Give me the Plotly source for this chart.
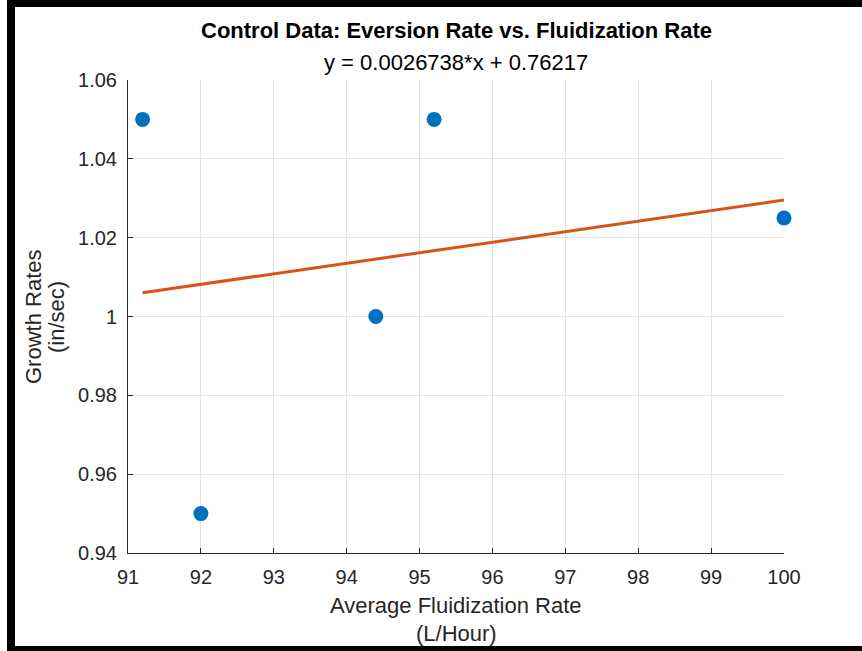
import plotly.graph_objects as go

# Data
flow_rates = [91.2, 92.0, 94.4, 95.2, 100.0]
growth_rates = [1.05, 0.95, 1.00, 1.05, 1.025]
slope = 0.0026738
intercept = 0.76217
fit_x = [91.2, 100.0]
fit_y = [slope * v + intercept for v in fit_x]

x_ticks = [91, 92, 93, 94, 95, 96, 97, 98, 99, 100]
y_ticks = [0.94, 0.96, 0.98, 1.0, 1.02, 1.04, 1.06]
y_tick_text = ["0.94", "0.96", "0.98", "1", "1.02", "1.04", "1.06"]

W, H = 862, 651
L, R, T, B = 128, 784, 80, 553

def px(x):
    return (x - L) / (R - L)

def py(y):
    return (B - y) / (B - T)

fig = go.Figure()
fig.add_trace(go.Scatter(x=flow_rates, y=growth_rates, mode="markers", cliponaxis=False,
                         marker=dict(color="#0072BD", size=15), showlegend=False))
fig.add_trace(go.Scatter(x=fit_x, y=fit_y, mode="lines",
                         line=dict(color="#D95319", width=3), showlegend=False))

font = "Liberation Sans, Arial, sans-serif"
axis_common = dict(showgrid=True, gridcolor="#e3e3e3", gridwidth=1,
                   showline=True, linecolor="#262626", linewidth=1,
                   ticks="inside", ticklen=5, tickcolor="#262626",
                   tickfont=dict(family=font, size=20, color="#262626"),
                   zeroline=False, mirror=False)

fig.update_layout(
    width=W, height=H,
    margin=dict(l=L, r=W - R, t=T, b=H - B),
    paper_bgcolor="white", plot_bgcolor="white",
    font=dict(family=font),
    xaxis=dict(range=[91, 100], tickvals=x_ticks, ticklabelstandoff=6, **axis_common),
    yaxis=dict(range=[0.94, 1.06], tickvals=y_ticks, ticktext=y_tick_text,
               ticklabelstandoff=6, **axis_common),
    annotations=[
        dict(text="<b>Control Data: Eversion Rate vs. Fluidization Rate</b>",
             x=0.5, y=py(31), xref="paper", yref="paper", showarrow=False,
             font=dict(family=font, size=22, color="#000000"), xanchor="center", yanchor="middle"),
        dict(text="y = 0.0026738*x + 0.76217",
             x=0.5, y=py(62), xref="paper", yref="paper", showarrow=False,
             font=dict(family=font, size=22, color="#000000"), xanchor="center", yanchor="middle"),
        dict(text="Growth Rates", textangle=-90,
             x=px(33), y=py(317), xref="paper", yref="paper", showarrow=False,
             font=dict(family=font, size=22, color="#262626"), xanchor="center", yanchor="middle"),
        dict(text="(in/sec)", textangle=-90,
             x=px(56), y=py(317), xref="paper", yref="paper", showarrow=False,
             font=dict(family=font, size=22, color="#262626"), xanchor="center", yanchor="middle"),
        dict(text="Average Fluidization Rate",
             x=0.5, y=py(605), xref="paper", yref="paper", showarrow=False,
             font=dict(family=font, size=22, color="#262626"), xanchor="center", yanchor="middle"),
        dict(text="(L/Hour)",
             x=0.5, y=py(633), xref="paper", yref="paper", showarrow=False,
             font=dict(family=font, size=22, color="#262626"), xanchor="center", yanchor="middle"),
    ],
    shapes=[
        dict(type="rect", xref="paper", yref="paper", x0=px(7), x1=px(W + 2), y0=py(7), y1=py(-2),
             fillcolor="black", line=dict(width=0), layer="above"),
        dict(type="rect", xref="paper", yref="paper", x0=px(7), x1=px(15), y0=py(H + 2), y1=py(-2),
             fillcolor="black", line=dict(width=0), layer="above"),
        dict(type="rect", xref="paper", yref="paper", x0=px(7), x1=px(W + 2), y0=py(H + 2), y1=py(646),
             fillcolor="black", line=dict(width=0), layer="above"),
    ],
)

fig.write_html("out.html")
